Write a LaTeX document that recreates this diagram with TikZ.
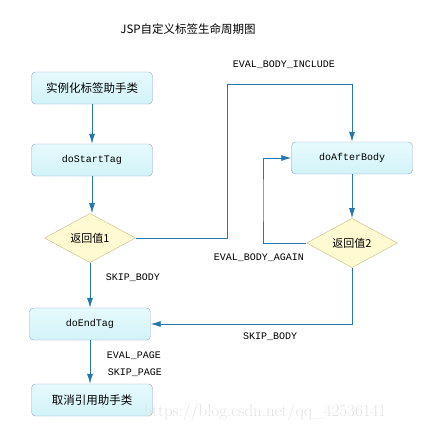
\documentclass[tikz,border=0pt]{standalone}
\usepackage{fontspec}
\setmonofont{Liberation Mono}
\newfontfamily\cjk{Noto Sans CJK SC}
\usetikzlibrary{shapes.geometric,arrows.meta}
\definecolor{linkblue}{HTML}{2478AE}
\definecolor{boxedge}{HTML}{8FA3C4}
\definecolor{boxtop}{HTML}{E6FAFC}
\definecolor{boxbot}{HTML}{D2F3F8}
\definecolor{diaedge}{HTML}{C9BC82}
\definecolor{diafill}{HTML}{FFFAD2}

\begin{document}
\begin{tikzpicture}[x=1pt, y=-1pt,
  stepbox/.style={draw=boxedge, rounded corners=4pt, top color=boxtop, bottom color=boxbot,
    minimum width=121pt, minimum height=32pt, inner sep=2pt},
  choice/.style={diamond, draw=diaedge, fill=diafill, minimum width=91pt, minimum height=46pt,
    inner sep=0pt, font=\cjk\fontsize{11}{13}\selectfont},
  codebox/.style={font=\ttfamily\fontsize{10}{12}\selectfont},
  cjkbox/.style={font=\cjk\fontsize{11.5}{13}\selectfont},
  tag/.style={font=\ttfamily\fontsize{10}{12}\selectfont},
  link/.style={draw=linkblue, line width=0.8pt, -{Latex[length=10pt, width=6pt]}}]

\useasboundingbox (0,0) rectangle (443,434);

% Title
\node[font=\cjk\fontsize{11.5}{13}\selectfont] (title) at (188,29) {JSP自定义标签生命周期图};

% Left column
\node[stepbox, cjkbox] (init) at (92,88) {实例化标签助手类};
\node[stepbox, codebox] (start) at (92,160) {doStartTag};
\node[choice] (ret1) at (90,238) {返回值1};
\node[stepbox, codebox] (end) at (90,324) {doEndTag};
\node[stepbox, cjkbox] (release) at (92,400) {取消引用助手类};

% Right column
\node[stepbox, codebox] (after) at (352,158) {doAfterBody};
\node[choice] (ret2) at (352,243) {返回值2};

% Bend points
\coordinate (c1) at (227,84);
\coordinate (c2) at (263,200);

% Arrows (left column)
\draw[link] (init) -- (start);
\draw[link] (start) -- (start|-ret1.north);
\draw[link] (ret1) -- (end);
\draw[link] (end) -- (end|-release.north);

% Arrows (body loop)
\draw[link] (ret1.east) -| (c1) -| (after.north);
\draw[link] (after) -- (ret2);
\draw[link] (ret2.west) -| (c2) |- (after.west);
\draw[link] (ret2.south) |- (end.east);

% Labels
\node[tag] (incl) at (284,65) {EVAL\_BODY\_INCLUDE};
\node[tag] (again) at (259,258) {EVAL\_BODY\_AGAIN};
\node[tag] (skip1) at (133,278) {SKIP\_BODY};
\node[tag] (skip2) at (270,337) {SKIP\_BODY};
\node[tag] (evalp) at (134,356) {EVAL\_PAGE};
\node[tag] (skipp) at (135,373) {SKIP\_PAGE};

% Watermark
\node[font=\rmfamily\fontsize{17}{19}\selectfont, text=gray!22] (mark) at (265,412) {https://blog.csdn.net/qq\_42536141};

\end{tikzpicture}
\end{document}
